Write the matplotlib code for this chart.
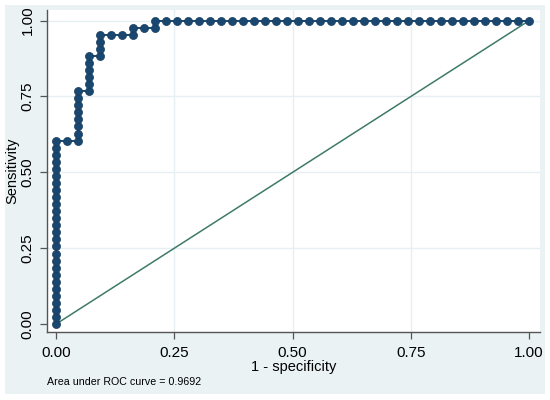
import matplotlib.pyplot as plt
from matplotlib.patches import Rectangle

plt.rcParams['font.family'] = ['Liberation Sans', 'DejaVu Sans']

# ROC points: counts out of 43 negatives / 43 positives
n_neg = 43
n_pos = 43
fp_count = [0, 0, 0, 0, 0, 0, 0, 0, 0, 0, 0, 0, 0, 0, 0, 0, 0, 0, 0, 0, 0, 0, 0, 0, 0, 0, 0,
            1,
            2, 2, 2, 2, 2, 2, 2, 2,
            3, 3, 3, 3, 3, 3,
            4, 4, 4, 4,
            5, 6, 7, 7, 8, 9, 9,
            10, 11, 12, 13, 14, 15, 16, 17, 18, 19, 20, 21, 22, 23, 24, 25, 26,
            27, 28, 29, 30, 31, 32, 33, 34, 35, 36, 37, 38, 39, 40, 41, 42, 43]
tp_count = [0, 1, 2, 3, 4, 5, 6, 7, 8, 9, 10, 11, 12, 13, 14, 15, 16, 17, 18, 19, 20, 21, 22, 23, 24, 25, 26,
            26,
            26, 27, 28, 29, 30, 31, 32, 33,
            33, 34, 35, 36, 37, 38,
            38, 39, 40, 41,
            41, 41, 41, 42, 42, 42, 43,
            43, 43, 43, 43, 43, 43, 43, 43, 43, 43, 43, 43, 43, 43, 43, 43, 43,
            43, 43, 43, 43, 43, 43, 43, 43, 43, 43, 43, 43, 43, 43, 43, 43, 43]
auc = 0.9692
ticks = [0.0, 0.25, 0.5, 0.75, 1.0]
tick_labels = ["0.00", "0.25", "0.50", "0.75", "1.00"]

fpr = [c / n_neg for c in fp_count]
tpr = [c / n_pos for c in tp_count]

W, H = 550, 400
fig = plt.figure(figsize=(5.5, 4), dpi=100, facecolor="white")
fig.patches.append(Rectangle((5 / W, 6 / H), 540 / W, 389 / H, transform=fig.transFigure,
                             facecolor="#eaf2f3", edgecolor="none", zorder=-10))

ax = fig.add_axes([47 / W, (H - 332) / H, 493 / W, 322 / H])
ax.set_zorder(1)
ax.set_facecolor("white")

ax.plot([0, 1], [0, 1], color="#3f7a68", lw=1.1, zorder=2)
ax.plot(fpr, tpr, color="#1a476f", lw=1.4, marker="o", markersize=5.8,
        markerfacecolor="#1a476f", markeredgecolor="#163d60", markeredgewidth=0.5,
        zorder=3, clip_on=False)

ax.set_xlim(-0.019, 1.023)
ax.set_ylim(-0.026, 1.035)
ax.set_xticks(ticks)
ax.set_xticklabels(tick_labels)
ax.set_yticks(ticks)
ax.set_yticklabels(tick_labels, rotation=90, va="center")

for t in ticks[1:]:
    ax.axhline(t, color="#e6eff1", lw=1.0, zorder=1)
for t in ticks[1:-1]:
    ax.axvline(t, color="#e6eff1", lw=1.0, zorder=1)

for side in ["top", "right"]:
    ax.spines[side].set_visible(False)
for side in ["left", "bottom"]:
    ax.spines[side].set_color("#555555")
    ax.spines[side].set_linewidth(1.0)

ax.tick_params(axis="both", direction="out", length=5, width=0.9, color="#555555",
               labelsize=11, labelcolor="black")
ax.tick_params(axis="x", pad=5)
ax.tick_params(axis="y", pad=4)

ax.set_xlabel("1 - specificity", fontsize=10.5)
ax.set_ylabel("Sensitivity", fontsize=10.5)
ax.xaxis.label.set_va("center")
ax.yaxis.label.set_va("center")
ax.xaxis.set_label_coords(0.5, (332 - 367) / 322)
ax.yaxis.set_label_coords((12 - 47) / 493, 0.5)

fig.text(47 / W, (H - 382) / H, f"Area under ROC curve = {auc:.4f}", fontsize=7.7,
         va="center", ha="left")

fig.savefig("out.png", dpi=100, facecolor="white")
